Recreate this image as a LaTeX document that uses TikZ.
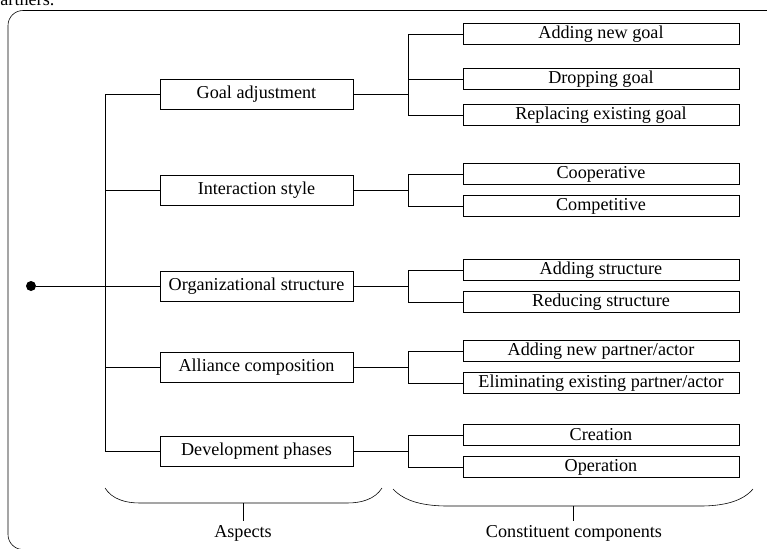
\documentclass[tikz,border=0pt]{standalone}
\usepackage{fontspec}
\setmainfont{Liberation Serif}
\begin{document}
\begin{tikzpicture}[x=0.03cm,y=-0.03cm,line width=0.7pt,
  every node/.append style={font=\fontsize{15.5}{18}\selectfont},
  aspect/.style={draw,minimum width=5.79cm,minimum height=0.9cm,inner sep=0pt},
  comp/.style={draw,minimum width=8.28cm,minimum height=0.63cm,inner sep=0pt}]
\useasboundingbox (0,0) rectangle (767,548);
\draw[line width=0.5pt,rounded corners=0.45cm] (8,10.5) rectangle (800,549.5);
\node[anchor=base west,inner sep=0pt] (tail) at (0,5) {artners.};

% aspects
\node[aspect] (goal) at (256.5,94) {Goal adjustment};
\node[aspect] (inter) at (256.5,190) {Interaction style};
\node[aspect] (org) at (256.5,286) {Organizational structure};
\node[aspect] (alli) at (256.5,367) {Alliance composition};
\node[aspect] (dev) at (256.5,451) {Development phases};

% components
\node[comp] (newgoal) at (601,34) {Adding new goal};
\node[comp] (dropgoal) at (601,79) {Dropping goal};
\node[comp] (repgoal) at (601,115) {Replacing existing goal};
\node[comp] (coop) at (601,174) {Cooperative};
\node[comp] (compet) at (601,206) {Competitive};
\node[comp] (addstr) at (601,270) {Adding structure};
\node[comp] (redstr) at (601,302) {Reducing structure};
\node[comp] (addpart) at (601,351) {Adding new partner/actor};
\node[comp] (elimpart) at (601,383) {Eliminating existing partner/actor};
\node[comp] (creat) at (601,435) {Creation};
\node[comp] (oper) at (601,467) {Operation};

% root and trunk
\node[circle,fill=black,inner sep=0pt,minimum size=0.3cm] (root) at (31,286) {};
\coordinate (trunk) at (105,0);
\coordinate (fork) at (408,0);
\draw (root) -- (org.west);
\draw (goal.west) -- (goal.west -| trunk) -- (dev.west -| trunk) -- (dev.west);
\draw (inter.west) -- (inter.west -| trunk);
\draw (alli.west) -- (alli.west -| trunk);

% branches
\draw (goal.east) -- (goal.east -| fork);
\draw (newgoal.west) -- (newgoal.west -| fork) -- (repgoal.west -| fork) -- (repgoal.west);
\draw (dropgoal.west) -- (dropgoal.west -| fork);
\draw (inter.east) -- (inter.east -| fork);
\draw (coop.west) -- (coop.west -| fork) -- (compet.west -| fork) -- (compet.west);
\draw (org.east) -- (org.east -| fork);
\draw (addstr.west) -- (addstr.west -| fork) -- (redstr.west -| fork) -- (redstr.west);
\draw (alli.east) -- (alli.east -| fork);
\draw (addpart.west) -- (addpart.west -| fork) -- (elimpart.west -| fork) -- (elimpart.west);
\draw (dev.east) -- (dev.east -| fork);
\draw (creat.west) -- (creat.west -| fork) -- (oper.west -| fork) -- (oper.west);

% braces
\draw[line width=0.5pt] (105,488) .. controls (112,499) and (125,503) .. (140,503) -- (347,503) .. controls (362,503) and (375,499) .. (382,488);
\draw[line width=0.5pt] (393,489) .. controls (405,502) and (425,506) .. (448,506) -- (700,506) .. controls (722,506) and (742,502) .. (753,489);
\node (asp) at (243,533) {Aspects};
\node (cons) at (574,533) {Constituent components};
\coordinate (asptip) at (243,503);
\coordinate (constip) at (573,506);
\draw (asptip) -- (asptip |- asp.north);
\draw (constip) -- (constip |- cons.north);
\end{tikzpicture}
\end{document}
